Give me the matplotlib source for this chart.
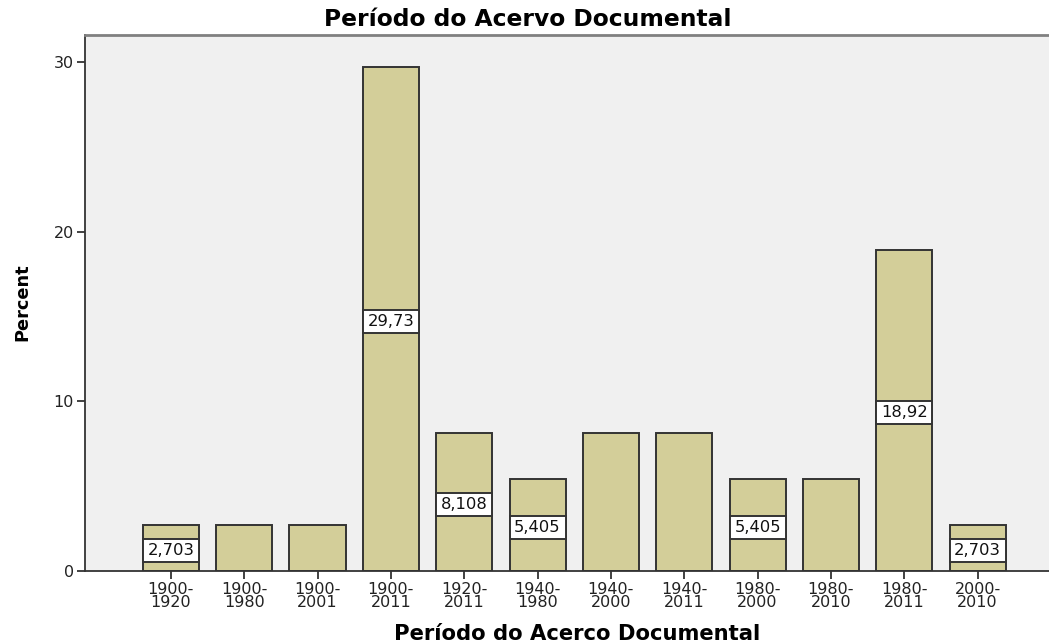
import matplotlib
matplotlib.use("Agg")
import matplotlib.pyplot as plt
from matplotlib.patches import Rectangle

categories = ["1900-\n1920", "1900-\n1980", "1900-\n2001", "1900-\n2011", "1920-\n2011",
              "1940-\n1980", "1940-\n2000", "1940-\n2011", "1980-\n2000", "1980-\n2010",
              "1980-\n2011", "2000-\n2010"]
percent = [2.703, 2.703, 2.703, 29.73, 8.108, 5.405, 8.108, 8.108, 5.405, 5.405, 18.92, 2.703]
show_label = [True, False, False, True, True, True, False, False, True, False, True, True]
yticks = [0, 10, 20, 30]

plt.rcParams['font.family'] = ['DejaVu Sans']

fig = plt.figure(figsize=(10.49, 6.43), dpi=100)
W, H = 1049, 643
ax = fig.add_axes([85 / W, 1 - 571 / H, (W - 85 + 2) / W, (571 - 35) / H])
ax.set_facecolor("#f0f0f0")

x = list(range(len(categories)))
bw = 0.765
ax.bar(x, percent, width=bw, color="#d3ce99", edgecolor="#333333", linewidth=1.4, zorder=2)

for xi, v, s in zip(x, percent, show_label):
    if s:
        h = 1.35
        yc = v / 2 - 0.13
        ax.add_patch(Rectangle((xi - bw / 2, yc - h / 2), bw, h, facecolor="white",
                               edgecolor="#333333", linewidth=1.4, zorder=3))
        ax.text(xi, yc, f"{v:.4g}".replace('.', ','), ha="center", va="center",
                fontsize=11.8, color="#111111", zorder=4)

ax.set_xlim(-1.17, 12.0)
ax.set_ylim(0, 31.6)
ax.set_yticks(yticks)
ax.set_yticklabels([str(t) for t in yticks], fontsize=11.5, color="#222222")
ax.set_xticks(x)
ax.set_xticklabels(categories, fontsize=11.5, linespacing=0.82, color="#222222")
ax.tick_params(axis="both", direction="out", length=6, width=1.3, color="#333333", pad=2)
ax.tick_params(axis="x", pad=2)
ax.spines["right"].set_visible(False)
for side in ["left", "bottom", "top"]:
    ax.spines[side].set_linewidth(1.3)
    ax.spines[side].set_color("#333333")
ax.spines["top"].set_color("#808080")
ax.spines["top"].set_linewidth(2)

fig.text(528 / W, 1 - 20 / H, "Período do Acervo Documental", ha="center", va="center",
         fontsize=16.8, fontweight="bold")
fig.text(577 / W, 1 - 634 / H, "Período do Acerco Documental", ha="center", va="center",
         fontsize=15.2, fontweight="bold")
fig.text(22 / W, 1 - 302 / H, "Percent", ha="center", va="center", rotation=90,
         fontsize=12.8, fontweight="bold")

fig.savefig("out.png", dpi=100)
